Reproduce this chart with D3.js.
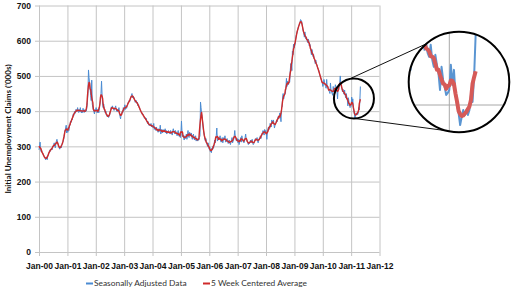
<!DOCTYPE html>
<html>
<head>
<meta charset="utf-8">
<script src="https://cdn.jsdelivr.net/npm/d3@7"></script>
<style>
  body { margin: 0; background: #fff; }
  svg { display: block; font-family: Lato, "Open Sans", sans-serif; }
</style>
</head>
<body>
<script>
// weekly initial unemployment claims, seasonally adjusted ('000s)
// one array per year, weeks ending on Saturday
var claims2000 = [290,300,312,290,285, 288,282,280,276, 272,268,270,262, 265,270,262,272,278, 280,285,290,286,
  292,295,290,300, 298,305,310,302,296, 308,315,320,312, 306,300,296,292,298, 300,296,305,310, 312,318,325,340, 345,352,360,338,350];
var claims2001 = [340,355,345,362, 360,372,368,378, 375,382,392,388,396, 400,394,405,398, 402,410,400,396,
  405,398,410,400,395, 402,396,408,400, 396,404,398,400, 400,410,425,450,517, 495,480,465,445, 430,488,420,410, 405,398,392,405,400];
var claims2002 = [410,400,395,405, 400,395,410,420, 430,450,485,445,420, 410,420,405,400, 395,400,390,385,
  385,388,382,386,390, 398,405,412,408, 415,410,405,402,408, 410,415,405,400, 398,405,402,410, 395,385,378,390,392, 398,395,410,402];
var claims2003 = [410,418,405,412, 408,415,420,425, 425,430,428,435,440, 445,450,438,442, 440,438,430,425,428,
  430,422,425,415, 418,412,408,404, 400,398,395,390,392, 388,385,380,382, 375,380,372,368, 365,370,360,362,358, 360,365,355,358];
var claims2004 = [358,352,365,348,355, 350,345,355,348, 345,340,350,342, 345,360,335,348, 342,338,348,345,340,
  342,350,338,345, 335,342,340,345,338, 340,335,345,338, 340,332,345,350, 342,338,335,345,340, 335,330,338,345, 330,328,335,325];
var claims2005 = [335,372,340,328,332, 325,318,330,322, 328,335,320,332, 345,330,325,340,335, 330,338,325,320,
  330,335,322,318, 325,330,315,320,322, 315,320,318,325, 330,426,410,392, 385,370,350,340,330, 320,315,322,310, 305,300,310,300,292];
var claims2006 = [298,285,288,282, 295,290,300,295, 305,318,310,322, 330,352,315,318,325, 320,322,330,315,
  312,318,325,310, 318,325,320,330,312, 315,318,322,312, 308,315,318,310,305, 312,318,325,310, 315,320,330,345, 325,322,315,318,322];
var claims2007 = [310,320,305,315, 318,325,312,330, 320,318,312,310,315, 325,335,320,318, 315,310,305,312,
  308,312,318,310,315, 320,310,305,308, 312,318,322,320, 318,325,315,310,320, 318,325,330,322, 328,335,340,345, 338,332,348,340,345];
var claims2008 = [335,320,340,350, 355,348,350,365, 360,355,375,365,370, 375,365,352,360, 365,368,375,370,380,
  385,378,388,395, 385,370,410,412, 440,450,435,445,448, 450,465,493,470, 485,475,478,480, 482,515,535,530,515, 570,560,590,580];
var claims2009 = [585,590,605,615,620, 628,632,640,645, 645,652,660,658, 655,645,635,628, 620,610,625,612,605,
  610,600,595,605, 600,585,590,585, 570,560,575,565,555, 560,550,545,535, 545,535,530,525,520, 518,512,505,500, 495,490,485,480];
var claims2010 = [470,478,490,482,475, 470,465,490,470, 468,462,460,455, 450,480,460,455, 450,445,470,460,455,
  460,475,470,465, 455,435,465,460,475, 480,500,475,470, 465,455,462,452, 448,460,445,438,450, 440,432,415,438, 425,418,410,412];
var claims2011 = [415,440,420,435, 410,400,392,380, 388,395,390,395, 390,395,410,403,428,470];

var years = [2000, 2001, 2002, 2003, 2004, 2005, 2006, 2007, 2008, 2009, 2010, 2011];
var yearly = [claims2000, claims2001, claims2002, claims2003, claims2004, claims2005,
  claims2006, claims2007, claims2008, claims2009, claims2010, claims2011];

var yTicks = [0, 100, 200, 300, 400, 500, 600, 700];
var xTickYears = [2000, 2001, 2002, 2003, 2004, 2005, 2006, 2007, 2008, 2009, 2010, 2011, 2012];
var seriesNames = ["Seasonally Adjusted Data", "5 Week Centered Average"];
var yTitle = "Initial Unemployment Claims ('000s)";

// weekly points
var weekly = [];
years.forEach(function(yr, j) {
  var first = d3.timeSaturday.ceil(new Date(yr, 0, 1));
  yearly[j].forEach(function(v, i) {
    weekly.push({date: d3.timeSaturday.offset(first, i), value: v});
  });
});

// 5 week centered average (shorter window at the ends)
var centered = weekly.map(function(d, i) {
  var win = weekly.slice(Math.max(0, i - 2), Math.min(weekly.length, i + 3));
  return {date: d.date, value: d3.mean(win, function(w) { return w.value; })};
});

var svg_w = 514, svg_h = 291;
var svg = d3.select("body").append("svg")
  .attr("width", svg_w)
  .attr("height", svg_h);

var blue = "#4a8bd2", red = "#cf2a2a";

var x = d3.scaleTime()
  .domain([new Date(2000, 0, 1), new Date(2012, 0, 1)])
  .range([39, 379.5]);
var y = d3.scaleLinear()
  .domain([0, 700])
  .range([252, 5.5]);

// y axis with gridlines
var yAxis = svg.append("g")
  .attr("transform", "translate(35,0)")
  .call(d3.axisLeft(y).tickValues(yTicks).tickSize(-(x.range()[1] - 35)).tickPadding(4));

// x axis with gridlines
var xAxis = svg.append("g")
  .attr("transform", "translate(0,256)")
  .call(d3.axisBottom(x)
    .tickValues(xTickYears.map(function(yr) { return new Date(yr, 0, 1); }))
    .tickFormat(d3.timeFormat("Jan-%y"))
    .tickSize(-(256 - y.range()[1]))
    .tickPadding(7));

[yAxis, xAxis].forEach(function(g) {
  g.select(".domain").remove();
  g.selectAll(".tick line").attr("stroke", "#c4c4c4");
  g.selectAll(".tick text")
    .attr("fill", "#111")
    .style("font-size", "8.5px")
    .style("font-weight", "bold");
});

svg.append("text")
  .attr("transform", "translate(11,129) rotate(-90)")
  .attr("text-anchor", "middle")
  .style("font-size", "8.1px")
  .style("font-weight", "bold")
  .attr("fill", "#111")
  .text(yTitle);

function drawSeries(g, xs, ys, wBlue, wRed, cBlue, cRed) {
  var line = d3.line()
    .x(function(d) { return xs(d.date); })
    .y(function(d) { return ys(d.value); });
  g.append("path").datum(weekly)
    .attr("fill", "none").attr("stroke", cBlue).attr("stroke-width", wBlue)
    .attr("stroke-linejoin", "round")
    .attr("d", line);
  g.append("path").datum(centered)
    .attr("fill", "none").attr("stroke", cRed).attr("stroke-width", wRed)
    .attr("stroke-linejoin", "round")
    .attr("d", line);
}

drawSeries(svg.append("g"), x, y, 1, 1.4, blue, red);

// magnifier: small circle over the chart, big lens on the right
var focus = {date: new Date(2011, 1, 6), value: 436, r: 20};
var lens = {cx: 459, cy: 82, r: 50.3};
var k = 2.85;
var x0 = x(new Date(2011, 0, 1)), y0 = y(400);
var xb = x.copy().range(x.range().map(function(r) { return 449.3 + k * (r - x0); }));
var yb = y.copy().range(y.range().map(function(r) { return 105 + k * (r - y0); }));

var fx = x(focus.date), fy = y(focus.value);

function onCircle(cx, cy, r, deg) {
  var a = deg * Math.PI / 180;
  return [cx + r * Math.cos(a), cy + r * Math.sin(a)];
}
var connectors = [
  [onCircle(fx, fy, focus.r, -103), onCircle(lens.cx, lens.cy, lens.r, -130.7)],
  [onCircle(fx, fy, focus.r, 88.6), onCircle(lens.cx, lens.cy, lens.r, 104.4)]
];
svg.selectAll(".connector").data(connectors).enter()
  .append("line")
  .attr("class", "connector")
  .attr("x1", function(d) { return d[0][0]; })
  .attr("y1", function(d) { return d[0][1]; })
  .attr("x2", function(d) { return d[1][0]; })
  .attr("y2", function(d) { return d[1][1]; })
  .attr("stroke", "#111")
  .attr("stroke-width", 1);

svg.append("circle")
  .attr("cx", fx).attr("cy", fy).attr("r", focus.r)
  .attr("fill", "none").attr("stroke", "#000").attr("stroke-width", 2);

svg.append("clipPath").attr("id", "lensclip")
  .append("circle").attr("cx", lens.cx).attr("cy", lens.cy).attr("r", lens.r);

svg.append("circle")
  .attr("cx", lens.cx).attr("cy", lens.cy).attr("r", lens.r)
  .attr("fill", "#fff");

var inset = svg.append("g").attr("clip-path", "url(#lensclip)");
inset.selectAll(".vg").data(xTickYears).enter()
  .append("line")
  .attr("x1", function(d) { return xb(new Date(d, 0, 1)); })
  .attr("x2", function(d) { return xb(new Date(d, 0, 1)); })
  .attr("y1", lens.cy - lens.r).attr("y2", lens.cy + lens.r)
  .attr("stroke", "#a8a8a8");
inset.selectAll(".hg").data(yTicks).enter()
  .append("line")
  .attr("y1", function(d) { return yb(d); })
  .attr("y2", function(d) { return yb(d); })
  .attr("x1", lens.cx - lens.r).attr("x2", lens.cx + lens.r)
  .attr("stroke", "#a8a8a8");
drawSeries(inset, xb, yb, 2, 4, "#5a95d2", "#d65a58");

svg.append("circle")
  .attr("cx", lens.cx).attr("cy", lens.cy).attr("r", lens.r)
  .attr("fill", "none").attr("stroke", "#000").attr("stroke-width", 2);

// legend
var legendPos = [86, 203];
var legend = svg.selectAll(".legend").data(seriesNames).enter()
  .append("g")
  .attr("transform", function(d, i) { return "translate(" + legendPos[i] + ",283.5)"; });
legend.append("line")
  .attr("x1", 0).attr("x2", 7)
  .attr("stroke", function(d, i) { return i ? red : blue; })
  .attr("stroke-width", 2);
legend.append("text")
  .attr("x", 8)
  .attr("dy", "0.35em")
  .style("font-size", "8.4px")
  .attr("fill", "#333")
  .text(function(d) { return d; });
</script>
</body>
</html>
